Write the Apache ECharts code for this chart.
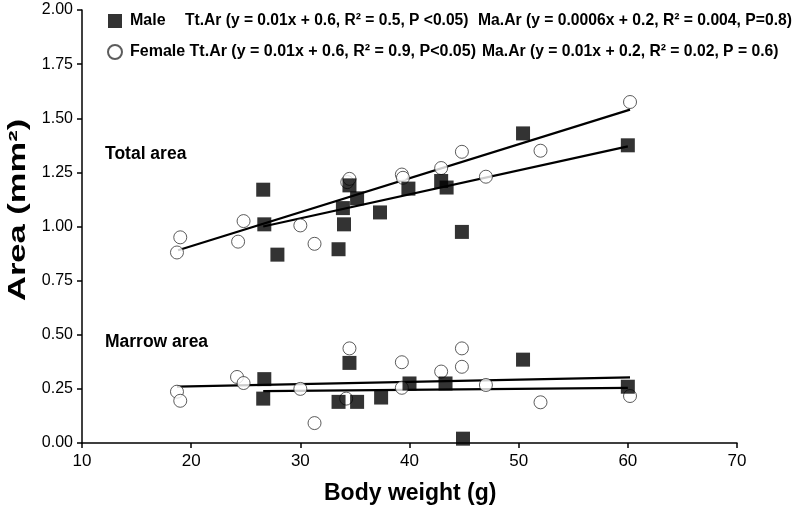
<!DOCTYPE html>
<html>
<head>
<meta charset="utf-8">
<script src="https://cdn.jsdelivr.net/npm/echarts@6/dist/echarts.min.js"></script>
<style>html,body{margin:0;padding:0;background:#fff}#c{width:800px;height:512px}</style>
</head>
<body>
<div id="c"></div>
<script>
// ---- data ----
var maleTotalWeight = [26.6, 26.7, 27.9, 33.5, 33.9, 34.0, 34.5, 35.2, 37.3, 39.9, 42.9, 43.4, 44.8, 50.4, 60.0];
var maleTotalArea   = [1.17, 1.01, 0.87, 0.895, 1.085, 1.01, 1.19, 1.13, 1.065, 1.175, 1.21, 1.18, 0.975, 1.43, 1.375];
var maleMarrowWeight = [26.7, 26.6, 33.5, 35.2, 34.5, 37.4, 40.0, 43.3, 44.9, 50.4, 60.0];
var maleMarrowArea   = [0.295, 0.205, 0.19, 0.19, 0.37, 0.21, 0.275, 0.275, 0.02, 0.385, 0.26];

var femaleTotalWeight = [18.7, 19.0, 24.3, 24.8, 30.0, 31.3, 34.3, 34.5, 39.3, 39.4, 42.9, 44.8, 47.0, 52.0, 60.2];
var femaleTotalArea   = [0.88, 0.95, 0.93, 1.025, 1.005, 0.92, 1.205, 1.22, 1.24, 1.225, 1.27, 1.345, 1.23, 1.35, 1.575];
var femaleMarrowWeight = [18.7, 19.0, 24.2, 24.8, 30.0, 31.3, 34.5, 34.2, 39.3, 39.3, 42.9, 44.8, 44.8, 47.0, 52.0, 60.2];
var femaleMarrowArea   = [0.237, 0.195, 0.305, 0.277, 0.25, 0.092, 0.437, 0.205, 0.373, 0.255, 0.33, 0.437, 0.352, 0.268, 0.188, 0.217];

// regression line endpoints
var maleTotalFitX = [26.6, 60.0],   maleTotalFitY = [1.00, 1.37];
var femaleTotalFitX = [18.8, 60.2], femaleTotalFitY = [0.89, 1.54];
var maleMarrowFitX = [26.6, 60.0],  maleMarrowFitY = [0.24, 0.255];
var femaleMarrowFitX = [18.7, 60.2], femaleMarrowFitY = [0.26, 0.303];

var xTicks = [10, 20, 30, 40, 50, 60, 70];
var yTicks = [0, 0.25, 0.5, 0.75, 1.0, 1.25, 1.5, 1.75, 2.0];

var legendMale = ['Male', 'Tt.Ar (y = 0.01x + 0.6, R\u00b2 = 0.5, P <0.05)', 'Ma.Ar (y = 0.0006x + 0.2, R\u00b2 = 0.004, P=0.8)'];
var legendFemale = ['Female Tt.Ar (y = 0.01x + 0.6, R\u00b2 = 0.9, P<0.05)', 'Ma.Ar (y = 0.01x + 0.2, R\u00b2 = 0.02, P = 0.6)'];

function zip(xs, ys) { return xs.map(function (x, i) { return [x, ys[i]]; }); }

var FONT = '"Liberation Sans", Arial, Helvetica, sans-serif';
var chart = echarts.init(document.getElementById('c'), null, { renderer: 'canvas' });

var lineStyle = { color: '#000', width: 2.2 };
function fitSeries(name, xs, ys) {
  return { name: name, type: 'line', data: zip(xs, ys), symbol: 'none', lineStyle: lineStyle,
           silent: true, z: 1, animation: false };
}
var maleStyle = { type: 'scatter', symbol: 'rect', symbolSize: 14, itemStyle: { color: '#000' }, z: 4, animation: false };
var femaleStyle = { type: 'scatter', symbol: 'circle', symbolSize: 13,
  itemStyle: { color: '#fff', borderColor: '#333', borderWidth: 1 }, z: 3, animation: false };

var rb = { fontWeight: 'bold', fontFamily: FONT, color: '#000' };
chart.setOption({
  animation: false,
  backgroundColor: '#fff',
  textStyle: { fontFamily: FONT },
  grid: { left: 82, right: 63, top: 10, bottom: 69 },
  xAxis: {
    type: 'value', min: 10, max: 70, interval: 10,
    splitLine: { show: false },
    axisLine: { lineStyle: { color: '#000', width: 1.5 } },
    axisTick: { lineStyle: { color: '#000', width: 1.5 }, length: 5 },
    axisLabel: { color: '#000', fontSize: 17, fontFamily: FONT, margin: 10,
      formatter: function (v) { return xTicks.indexOf(v) >= 0 ? String(v) : ''; } }
  },
  yAxis: {
    type: 'value', min: 0, max: 2, interval: 0.25,
    splitLine: { show: false },
    axisLine: { show: true, lineStyle: { color: '#000', width: 1.5 } },
    axisTick: { show: true, lineStyle: { color: '#000', width: 1.5 }, length: 5 },
    axisLabel: { color: '#000', fontSize: 16, fontFamily: FONT, margin: 9,
      formatter: function (v) { return yTicks.indexOf(v) >= 0 ? v.toFixed(2) : ''; } }
  },
  legend: {
    data: ['Male', 'Female'],
    orient: 'vertical', left: 102, top: 8,
    itemWidth: 14, itemHeight: 14, itemGap: 15,
    selectedMode: false,
    textStyle: {
      color: '#000', fontSize: 16, fontWeight: 'bold', fontFamily: FONT,
      rich: {
        a: Object.assign({ fontSize: 16, width: 55, padding: [0, 0, 0, 3] }, rb),
        b: Object.assign({ fontSize: 15.6, width: 293 }, rb),
        f: Object.assign({ fontSize: 16, width: 352, padding: [0, 0, 0, 3] }, rb),
        c: Object.assign({ fontSize: 15.7 }, rb)
      }
    },
    formatter: function (name) {
      if (name === 'Male') return '{a|' + legendMale[0] + '}{b|' + legendMale[1] + '}{c|' + legendMale[2] + '}';
      return '{f|' + legendFemale[0] + '}{c|' + legendFemale[1] + '}';
    }
  },
  graphic: [
    { type: 'text', left: 324, top: 482, style: { text: 'Body weight (g)', font: 'bold 23px ' + FONT, fill: '#000' } },
    { type: 'text', x: 7, y: 301, rotation: Math.PI / 2, scaleX: 1.5, scaleY: 1,
      style: { text: 'Area (mm\u00b2)', font: 'bold 23px ' + FONT, fill: '#000' } },
    { type: 'text', left: 105, top: 145, style: { text: 'Total area', font: 'bold 17.5px ' + FONT, fill: '#000' } },
    { type: 'text', left: 105, top: 333, style: { text: 'Marrow area', font: 'bold 17.5px ' + FONT, fill: '#000' } }
  ],
  series: [
    fitSeries('fitFT', femaleTotalFitX, femaleTotalFitY),
    fitSeries('fitMT', maleTotalFitX, maleTotalFitY),
    fitSeries('fitFM', femaleMarrowFitX, femaleMarrowFitY),
    fitSeries('fitMM', maleMarrowFitX, maleMarrowFitY),
    Object.assign({ name: 'Female', data: zip(femaleTotalWeight, femaleTotalArea) }, femaleStyle),
    Object.assign({ name: 'Female', data: zip(femaleMarrowWeight, femaleMarrowArea) }, femaleStyle),
    Object.assign({ name: 'Male', data: zip(maleTotalWeight, maleTotalArea) }, maleStyle),
    Object.assign({ name: 'Male', data: zip(maleMarrowWeight, maleMarrowArea) }, maleStyle)
  ]
});
</script>
</body>
</html>
